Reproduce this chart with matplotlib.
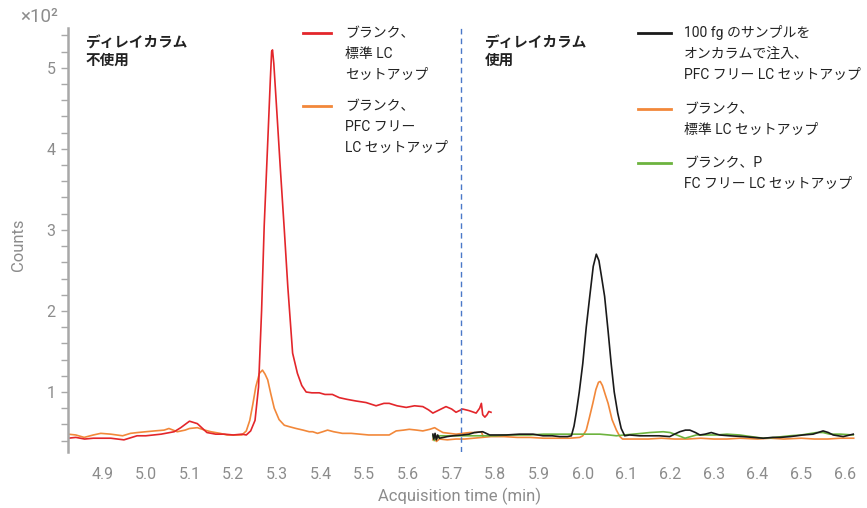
import matplotlib
matplotlib.use("Agg")
import matplotlib.pyplot as plt
from matplotlib.lines import Line2D
from matplotlib.ticker import MultipleLocator

plt.rcParams['font.family'] = ['Roboto', 'Noto Sans CJK JP', 'DejaVu Sans']

# ---------------- data ----------------
red_t = [4.822, 4.84, 4.86, 4.88, 4.90, 4.92, 4.95, 4.98, 5.00, 5.035, 5.065, 5.08, 5.10, 5.118,
         5.14, 5.16, 5.18, 5.20, 5.22, 5.23, 5.24, 5.25, 5.258, 5.265, 5.271, 5.28, 5.285, 5.288,
         5.290, 5.293, 5.30, 5.308, 5.317, 5.325, 5.336, 5.347, 5.357, 5.367, 5.38, 5.397, 5.41,
         5.427, 5.443, 5.46, 5.48, 5.504, 5.527, 5.545, 5.557, 5.575, 5.596, 5.615, 5.634, 5.647,
         5.657, 5.672, 5.687, 5.70, 5.71, 5.725, 5.74, 5.756, 5.764, 5.768, 5.771, 5.776, 5.781,
         5.785, 5.79]
red_v = [0.43, 0.44, 0.42, 0.43, 0.43, 0.43, 0.41, 0.46, 0.46, 0.48, 0.51, 0.56, 0.64, 0.61,
         0.50, 0.48, 0.48, 0.47, 0.48, 0.47, 0.52, 0.65, 1.06, 2.0, 3.05, 4.2, 4.85, 5.2,
         5.22, 5.05, 4.45, 3.75, 3.0, 2.3, 1.48, 1.23, 1.08, 1.0, 0.99, 0.99, 0.97,
         0.97, 0.93, 0.91, 0.89, 0.87, 0.83, 0.86, 0.86, 0.83, 0.81, 0.83, 0.82, 0.78,
         0.74, 0.78, 0.82, 0.79, 0.75, 0.79, 0.77, 0.74, 0.80, 0.86, 0.72, 0.69, 0.72,
         0.76, 0.75]

orgL_t = [4.822, 4.84, 4.859, 4.88, 4.897, 4.92, 4.947, 4.965, 4.981, 5.00, 5.02, 5.042, 5.053,
          5.072, 5.09, 5.10, 5.118, 5.135, 5.149, 5.17, 5.186, 5.205, 5.22, 5.23, 5.238, 5.245,
          5.252, 5.26, 5.267, 5.273, 5.279, 5.286, 5.294, 5.305, 5.317, 5.33, 5.344, 5.36, 5.374,
          5.382, 5.393, 5.405, 5.416, 5.43, 5.45, 5.47, 5.49, 5.51, 5.527, 5.545, 5.557, 5.573,
          5.59, 5.603, 5.62, 5.634, 5.65, 5.661, 5.67, 5.68, 5.695, 5.71, 5.725, 5.741, 5.755,
          5.768, 5.772]
orgL_v = [0.48, 0.47, 0.44, 0.47, 0.49, 0.48, 0.46, 0.49, 0.50, 0.51, 0.52, 0.53, 0.55,
          0.51, 0.53, 0.55, 0.56, 0.53, 0.51, 0.49, 0.47, 0.47, 0.47, 0.52, 0.65, 0.85,
          1.07, 1.23, 1.27, 1.22, 1.15, 0.98, 0.80, 0.66, 0.59, 0.57, 0.55, 0.53, 0.51,
          0.51, 0.49, 0.51, 0.53, 0.51, 0.49, 0.49, 0.48, 0.47, 0.47, 0.47, 0.47, 0.52,
          0.53, 0.54, 0.53, 0.52, 0.54, 0.56, 0.53, 0.50, 0.49, 0.48, 0.49, 0.50, 0.50,
          0.51, 0.45]

orgR_t = [5.657, 5.66, 5.665, 5.672, 5.69, 5.71, 5.73, 5.75, 5.77, 5.79, 5.82, 5.85, 5.88, 5.91,
          5.94, 5.97, 5.993, 6.0, 6.008, 6.015, 6.023, 6.03, 6.036, 6.040, 6.045, 6.052, 6.058,
          6.067, 6.077, 6.085, 6.091, 6.12, 6.15, 6.18, 6.21, 6.24, 6.27, 6.30, 6.33, 6.36, 6.40,
          6.43, 6.46, 6.50, 6.53, 6.56, 6.59, 6.62]
orgR_v = [0.41, 0.45, 0.39, 0.42, 0.41, 0.42, 0.42, 0.43, 0.44, 0.45, 0.45, 0.44, 0.44, 0.43,
          0.43, 0.43, 0.44, 0.46, 0.53, 0.68, 0.86, 1.03, 1.12, 1.13, 1.08, 0.96, 0.86,
          0.66, 0.53, 0.45, 0.42, 0.42, 0.42, 0.43, 0.42, 0.42, 0.43, 0.42, 0.42, 0.43, 0.42,
          0.43, 0.42, 0.43, 0.42, 0.42, 0.43, 0.43]

blk_t = [5.657, 5.659, 5.662, 5.665, 5.668, 5.672, 5.69, 5.703, 5.725, 5.74, 5.752, 5.771, 5.787,
         5.805, 5.825, 5.855, 5.886, 5.909, 5.93, 5.947, 5.965, 5.974, 5.98, 5.985, 5.992, 6.0,
         6.008, 6.016, 6.024, 6.031, 6.037, 6.043, 6.05, 6.058, 6.065, 6.072, 6.08, 6.088, 6.096,
         6.107, 6.13, 6.153, 6.175, 6.199, 6.21, 6.222, 6.235, 6.245, 6.258, 6.268, 6.28, 6.294,
         6.313, 6.336, 6.367, 6.39, 6.413, 6.435, 6.451, 6.475, 6.504, 6.527, 6.55, 6.562, 6.573,
         6.596, 6.619]
blk_v = [0.48, 0.42, 0.49, 0.41, 0.47, 0.43, 0.45, 0.46, 0.47, 0.48, 0.50, 0.51, 0.47,
         0.47, 0.47, 0.48, 0.48, 0.46, 0.46, 0.45, 0.45, 0.46, 0.58, 0.74, 1.0, 1.35,
         1.8, 2.18, 2.55, 2.70, 2.62, 2.42, 2.18, 1.75, 1.35, 1.0, 0.74, 0.55, 0.46,
         0.47, 0.46, 0.46, 0.46, 0.45, 0.48, 0.51, 0.53, 0.53, 0.50, 0.47, 0.48, 0.50,
         0.47, 0.46, 0.45, 0.44, 0.43, 0.44, 0.44, 0.45, 0.47, 0.48, 0.52, 0.50, 0.47,
         0.45, 0.48]

grn_t = [5.657, 5.66, 5.663, 5.667, 5.672, 5.69, 5.71, 5.74, 5.77, 5.80, 5.83, 5.855, 5.88, 5.91,
         5.947, 5.97, 5.993, 6.02, 6.039, 6.06, 6.077, 6.095, 6.115, 6.135, 6.153, 6.184, 6.20,
         6.215, 6.234, 6.26, 6.28, 6.306, 6.33, 6.359, 6.385, 6.413, 6.44, 6.474, 6.50, 6.535,
         6.55, 6.565, 6.59, 6.619]
grn_v = [0.46, 0.40, 0.47, 0.43, 0.46, 0.46, 0.46, 0.46, 0.46, 0.46, 0.47, 0.47, 0.47, 0.48,
         0.48, 0.48, 0.48, 0.48, 0.48, 0.47, 0.46, 0.47, 0.48, 0.49, 0.50, 0.51, 0.50,
         0.47, 0.43, 0.47, 0.47, 0.47, 0.48, 0.47, 0.45, 0.43, 0.44, 0.46, 0.47, 0.50,
         0.50, 0.48, 0.48, 0.47]

divider_t = 5.722
x_ticks = [4.9, 5.0, 5.1, 5.2, 5.3, 5.4, 5.5, 5.6, 5.7, 5.8, 5.9, 6.0, 6.1, 6.2, 6.3, 6.4, 6.5, 6.6]
y_ticks = [1, 2, 3, 4, 5]

RED = '#e3262b'
ORANGE = '#f2883a'
GREEN = '#6db33f'
BLACK = '#1a1a1a'
GRAY = '#8c8c8c'

W, H = 867, 508
fig = plt.figure(figsize=(W / 100, H / 100), dpi=100)
ax = fig.add_axes([68 / W, 1 - 452 / H, (855 - 68) / W, (452 - 28) / H])

ax.plot(orgL_t, orgL_v, color=ORANGE, lw=1.2)
ax.plot(red_t, red_v, color=RED, lw=1.2)
ax.plot(orgR_t, orgR_v, color=ORANGE, lw=1.2)
ax.plot(grn_t, grn_v, color=GREEN, lw=1.2)
ax.plot(blk_t, blk_v, color=BLACK, lw=1.2)
ax.axvline(divider_t, color='#4a78c8', lw=1.0, ls=(0, (4, 3)))

ax.set_xlim(4.822, 6.623)
ax.set_ylim(0.26, 5.49)
ax.set_xticks(x_ticks)
ax.set_xticklabels([f"{v:.1f}" for v in x_ticks])
ax.set_yticks(y_ticks)
ax.set_yticklabels([str(v) for v in y_ticks])
ax.yaxis.set_minor_locator(MultipleLocator(0.2))

for s in ['top', 'right', 'bottom']:
    ax.spines[s].set_visible(False)
ax.spines['left'].set_color('#a8a8a8')
ax.spines['left'].set_linewidth(1.8)
ax.tick_params(axis='x', length=0, pad=11, labelsize=11.5, labelcolor=GRAY)
ax.tick_params(axis='y', which='major', length=5, width=1, color='#a8a8a8',
               labelsize=11.5, labelcolor=GRAY, pad=4)
ax.tick_params(axis='y', which='minor', length=5, width=1, color='#a8a8a8')

fig.text(460 / W, 1 - 496 / H, 'Acquisition time (min)', ha='center', va='center',
         fontsize=12, color=GRAY)
fig.text(19 / W, 1 - 245 / H, 'Counts', ha='center', va='center', rotation=90,
         fontsize=12, color=GRAY)
fig.text(20 / W, 1 - 17 / H, '×10²', ha='left', va='center', fontsize=13.5, color=GRAY)

fig.text(86 / W, 1 - 52 / H, 'ディレイカラム\n不使用', ha='left', va='center',
         fontsize=10.5, fontweight='bold', color='#222222', linespacing=1.35)
fig.text(485 / W, 1 - 52 / H, 'ディレイカラム\n使用', ha='left', va='center',
         fontsize=10.5, fontweight='bold', color='#222222', linespacing=1.35)

def legend_entry(x0, x1, y, color, tx, lines):
    fig.add_artist(Line2D([x0 / W, x1 / W], [1 - y / H, 1 - y / H], color=color, lw=2.0))
    for i, s in enumerate(lines):
        fig.text(tx / W, 1 - (y + 21 * i) / H, s, ha='left', va='center',
                 fontsize=10, color='#222222')

legend_entry(303, 331, 33, RED, 345, ['ブランク、', '標準 LC', 'セットアップ'])
legend_entry(303, 331, 106, ORANGE, 345, ['ブランク、', 'PFC フリー', 'LC セットアップ'])
legend_entry(638, 671, 33, BLACK, 684, ['100 fg のサンプルを', 'オンカラムで注入、',
                                        'PFC フリー LC セットアップ'])
legend_entry(638, 671, 109, ORANGE, 684, ['ブランク、', '標準 LC セットアップ'])
legend_entry(638, 671, 163, GREEN, 684, ['ブランク、P', 'FC フリー LC セットアップ'])

fig.savefig('out.png', dpi=100)
